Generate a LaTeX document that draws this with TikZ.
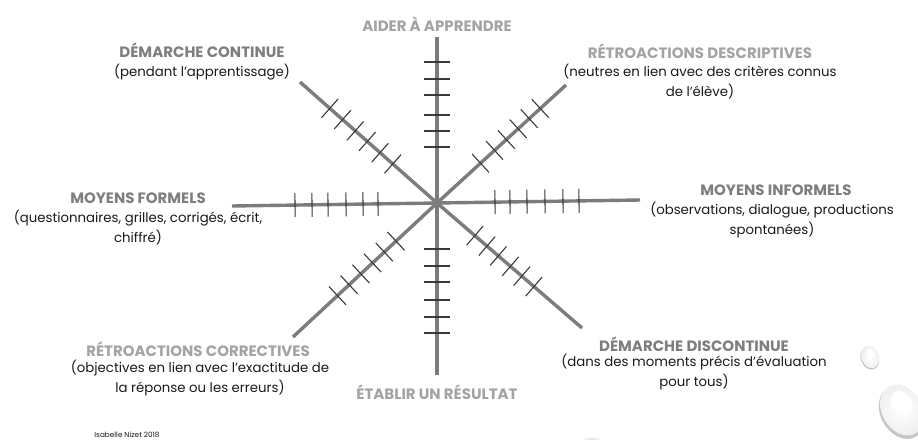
\documentclass[tikz,border=0pt]{standalone}
\usepackage{fontspec}
\setmainfont{Poppins}
\usetikzlibrary{calc}
\definecolor{axisgray}{HTML}{7C7C7C}
\definecolor{tickgray}{HTML}{3A3A3A}
\definecolor{headdark}{HTML}{7E7E7E}
\definecolor{headlight}{HTML}{A3A3A3}
\definecolor{subtext}{HTML}{1A1A1A}
\tikzset{
  axis/.style={draw=axisgray, line width=3.4pt, line cap=butt},
  tickline/.style={draw=tickgray, line width=1.1pt},
  headdk/.style={font=\fontsize{15}{17}\selectfont\bfseries, text=headdark, inner sep=0pt},
  headlt/.style={font=\fontsize{15}{17}\selectfont\bfseries, text=headlight, inner sep=0pt},
  subtxt/.style={font=\fontsize{13.3}{19.5}\selectfont, text=subtext, align=center, inner sep=0pt},
}
\begin{document}
\begin{tikzpicture}[x=1pt, y=-1pt]
\clip (0,0) rectangle (918,439);
\fill[white] (0,0) rectangle (918,439);

% centre and axis ends
\coordinate (C) at (437,203);
\coordinate (N) at (437,37);
\coordinate (S) at (437,375);
\coordinate (W) at (232,206);
\coordinate (E) at (640,200);
\coordinate (NW) at (300,82);
\coordinate (SE) at (582,328);
\coordinate (NE) at (566,85);
\coordinate (SW) at (293,337);

\foreach \e in {N,S,W,E,NW,SE,NE,SW} \draw[axis] (C) -- (\e);

% ticks
\newcommand\tickset[3]{%
  \foreach \d in {#2} {
    \coordinate (tp) at ($(C)!\d pt!(#1)$);
    \draw[tickline] ($(tp)!#3pt!90:(#1)$) -- ($(tp)!#3pt!-90:(#1)$);
  }}
\tickset{N}{56,72,88,108,124,141}{13}
\tickset{S}{46,63,79,97,114,130}{13}
\tickset{W}{59,74,91,109,125,142}{12}
\tickset{E}{58,73,90,108,126,142}{12}
\tickset{NW}{59,76,93,109,126,143}{12.5}
\tickset{SE}{50,66,81,97,112,128}{12.5}
\tickset{SW}{56,72,88,104,120,136}{12.5}
\tickset{NE}{59,78,94,110,125,140}{12.5}

% labels
\node[headlt] (tN) at (437,24) {AIDER À APPRENDRE};
\node[headlt] (tS) at (437,392) {ÉTABLIR UN RÉSULTAT};

\node[headdk] (tNW) at (202,50) {DÉMARCHE CONTINUE};
\node[subtxt] (sNW) at (202,72) {(pendant l’apprentissage)};

\node[headlt] (tNE) at (700,51) {RÉTROACTIONS DESCRIPTIVES};
\node[subtxt, anchor=north] (sNE) at (700,64) {(neutres en lien avec des critères connus\\de l’élève)};

\node[headdk] (tW) at (138,198) {MOYENS FORMELS};
\node[subtxt, anchor=north] (sW) at (138,210) {(questionnaires, grilles, corrigés, écrit,\\chiffré)};

\node[headdk] (tE) at (776,190) {MOYENS INFORMELS};
\node[subtxt, anchor=north] (sE) at (772,202) {(observations, dialogue, productions\\spontanées)};

\node[headlt] (tSW) at (198,349) {RÉTROACTIONS CORRECTIVES};
\node[subtxt, anchor=north] (sSW) at (200,360) {(objectives en lien avec l’exactitude de\\la réponse ou les erreurs)};

\node[headdk] (tSE) at (694,344) {DÉMARCHE DISCONTINUE};
\node[subtxt, anchor=north] (sSE) at (694,354) {(dans des moments précis d’évaluation\\pour tous)};

\node[font=\fontsize{7.3}{9}\selectfont, text=subtext, inner sep=0pt] (credit) at (127,435) {Isabelle Nizet 2018};

% water drops
\begin{scope}[shift={(870,357)}, rotate=20]
  \fill[gray!45] (-0.6,0.8) ellipse [x radius=9, y radius=12];
  \shade[inner color=white, outer color=gray!12] (0,0) ellipse [x radius=8.5, y radius=11.5];
  \fill[white] (1.5,-3) ellipse [x radius=4, y radius=5];
\end{scope}
\begin{scope}[shift={(902,410)}, rotate=30]
  \fill[gray!45] (-1.5,2) ellipse [x radius=21, y radius=28];
  \shade[inner color=white, outer color=gray!12] (0,0) ellipse [x radius=20, y radius=27];
  \fill[white] (3,-6) ellipse [x radius=10, y radius=13];
\end{scope}
\begin{scope}[shift={(592,441)}]
  \shade[inner color=gray!35, outer color=white] (0,0) ellipse [x radius=12, y radius=5];
\end{scope}
\end{tikzpicture}
\end{document}
